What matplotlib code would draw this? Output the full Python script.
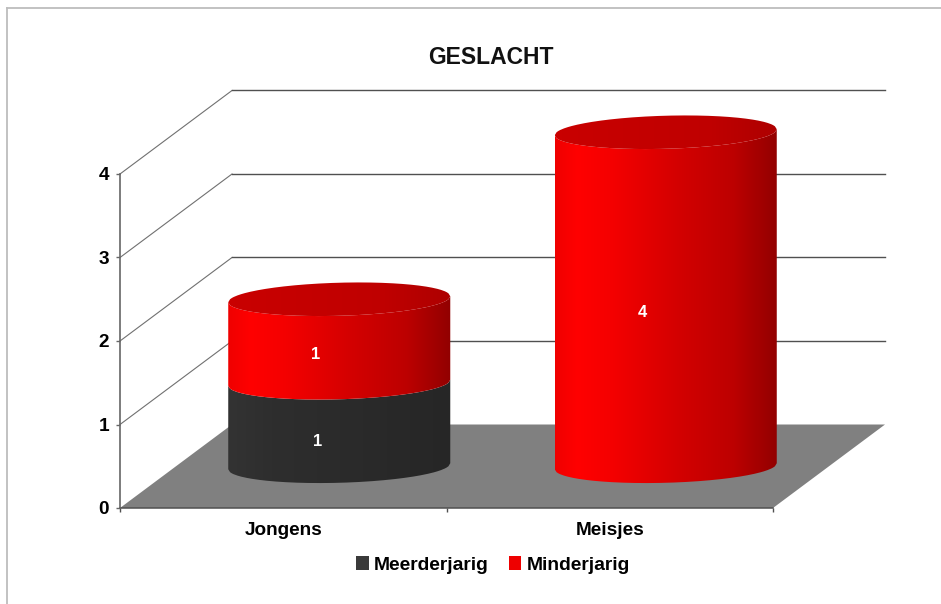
import numpy as np
import matplotlib
matplotlib.use("Agg")
import matplotlib.pyplot as plt
from matplotlib.colors import LinearSegmentedColormap
from matplotlib.lines import Line2D
from matplotlib.patches import Patch, PathPatch, Polygon
from matplotlib.path import Path

categories = ["Jongens", "Meisjes"]
series_names = ["Meerderjarig", "Minderjarig"]
meerderjarig = [1, 0]
minderjarig = [1, 4]
y_ticks = [0, 1, 2, 3, 4]
title = "GESLACHT"

W, H = 941, 604
plt.rcParams["font.family"] = ["Liberation Sans", "DejaVu Sans"]
plt.rcParams["font.weight"] = "bold"

fig = plt.figure(figsize=(W / 100, H / 100), dpi=100, facecolor="white")
L, R, T, B = 120, 773, 174, 508
ax = fig.add_axes([L / W, 1 - B / H, (R - L) / W, (B - T) / H])
ax.set_xlim(0, 2)
ax.set_ylim(0, 4)
ax.patch.set_visible(False)

DX, DY = 112 / 326.5, 1.0          # depth vector in data units
RX, RY, TILT = 0.34, 0.198, 0.036  # cylinder ellipse

# floor and walls
ax.add_patch(Polygon([(0, 0), (2, 0), (2 + DX, DY), (DX, DY)], closed=True,
                     fc="#808080", ec="none", clip_on=False, zorder=1))
for y in y_ticks[1:]:
    ax.plot([0, DX], [y, y + DY], color="#707070", lw=0.8, clip_on=False, zorder=1)
    ax.plot([DX, 2 + DX], [y + DY, y + DY], color="#505050", lw=1.0, clip_on=False, zorder=1)

red_side = LinearSegmentedColormap.from_list("rs", [
    (0, (0.94, 0, 0)), (0.1, (1, 0, 0)), (0.25, (0.96, 0, 0)), (0.55, (0.83, 0, 0)),
    (0.8, (0.74, 0, 0)), (0.93, (0.63, 0, 0)), (1, (0.57, 0, 0))])
dark_side = LinearSegmentedColormap.from_list("ds", [
    (0, (0.2, 0.2, 0.2)), (0.2, (0.18, 0.18, 0.18)), (1, (0.15, 0.15, 0.15))])
red_top = LinearSegmentedColormap.from_list("rt", [
    (0, (0.79, 0, 0)), (0.7, (0.75, 0, 0)), (1, (0.68, 0, 0))])
dark_top = LinearSegmentedColormap.from_list("dt", [(0, (0.25, 0.25, 0.25)), (1, (0.2, 0.2, 0.2))])
grad = np.linspace(0, 1, 256).reshape(1, -1)


def fill(path, cmap, x0, x1, y0, y1, z):
    clip = PathPatch(path, fc="none", ec="none", transform=ax.transData, clip_on=False)
    ax.add_patch(clip)
    im = ax.imshow(grad, cmap=cmap, extent=[x0, x1, y0, y1], aspect="auto",
                   origin="lower", zorder=z)
    im.set_clip_box(fig.bbox)
    im.set_clip_path(clip)


def cylinder(cx, y0, y1, side, top, z, with_top):
    u = np.linspace(-1, 1, 121)
    xs = cx + RX * u
    tilt = TILT * u
    front = -RY * np.sqrt(1 - u ** 2)
    low = y0 + tilt + front
    high = y1 + tilt + front
    verts = np.r_[np.c_[xs, low], np.c_[xs[::-1], high[::-1]], [[xs[0], low[0]]]]
    fill(Path(verts), side, cx - RX, cx + RX, y0 - 1, y1 + 1, z)
    if with_top:
        back = RY * np.sqrt(1 - u ** 2)
        verts = np.r_[np.c_[xs, y1 + tilt + front], np.c_[xs[::-1], (y1 + tilt + back)[::-1]],
                      [[xs[0], y1 + tilt[0]]]]
        fill(Path(verts), top, cx - RX, cx + RX, y1 - 1, y1 + 1, z + 0.5)


for i, cat in enumerate(categories):
    cx = i + 0.5 + DX / 2
    bottom = DY / 2
    stack = 0
    for val, side, top, next_val, lx, ly in (
        (meerderjarig[i], dark_side, dark_top, minderjarig[i], 0.105, 0.30),
        (minderjarig[i], red_side, red_top, 0, 0.10, 0.34),
    ):
        if val == 0:
            continue
        cylinder(cx, bottom + stack, bottom + stack + val, side, top, 3 + stack, next_val == 0)
        ax.text(i + 0.5 + lx, stack + val / 2 + ly, str(val), color="white",
                fontsize=12, fontweight="bold", ha="center", va="center", zorder=20)
        stack += val

ax.set_xlim(0, 2)
ax.set_ylim(0, 4)

# axes
for s in ("top", "right"):
    ax.spines[s].set_visible(False)
ax.spines["left"].set_color("#666666")
ax.spines["left"].set_linewidth(1.2)
ax.spines["bottom"].set_color("#505050")
ax.spines["bottom"].set_linewidth(1.1)
ax.spines["bottom"].set_zorder(2)
ax.set_yticks(y_ticks)
ax.set_xticks([0, 1, 2], labels=["", "", ""])
ax.set_xticks([0.5, 1.5], labels=categories, minor=True)
ax.tick_params(axis="y", length=3, width=1, color="#666666", pad=5, labelsize=13.7)
ax.tick_params(axis="x", which="major", length=3, width=1, color="#505050")
ax.tick_params(axis="x", which="minor", length=0, pad=10, labelsize=13.7)
ax.set_axisbelow(True)

fig.text(491 / W, 1 - 57 / H, title, fontsize=16.5, fontweight="bold",
         ha="center", va="center", color="#111111")

handles = [Patch(fc="#3a3a3a", ec="none"), Patch(fc="#ee0000", ec="none")]
fig.legend(handles, series_names, loc="center", bbox_to_anchor=(493 / W, 1 - 565 / H),
           ncol=2, frameon=False, fontsize=13.9, handlelength=0.63, handleheight=0.72,
           handletextpad=0.27, columnspacing=1.05, borderpad=0, borderaxespad=0)

# outer frame of the picture
fig.add_artist(Line2D([7 / W, 7 / W], [0, 1 - 8 / H], color="#bdbdbd", lw=1.3))
fig.add_artist(Line2D([7 / W, 1], [1 - 8 / H, 1 - 8 / H], color="#bdbdbd", lw=1.3))

fig.savefig("out.png", dpi=100, facecolor="white")
